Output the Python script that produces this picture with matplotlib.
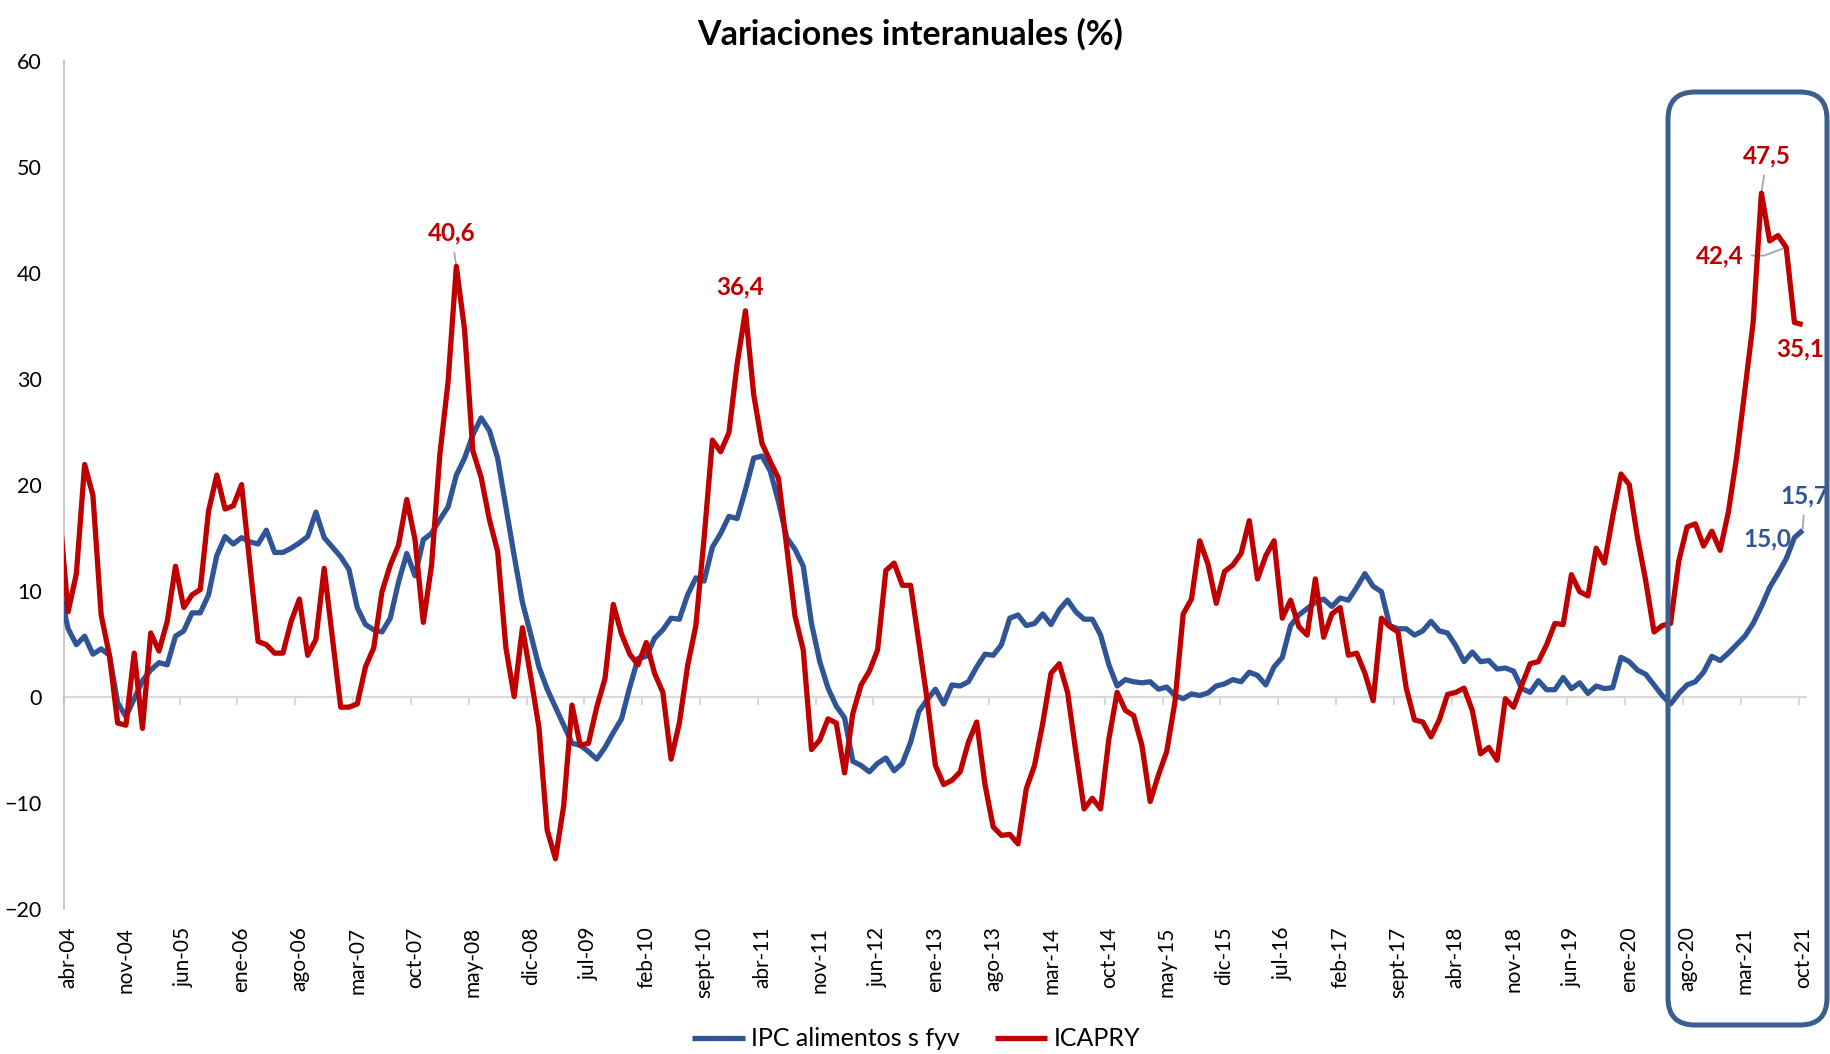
import numpy as np
import matplotlib
matplotlib.use("Agg")
import matplotlib.pyplot as plt
from matplotlib.patches import FancyBboxPatch
from matplotlib.transforms import IdentityTransform

plt.rcParams['font.family'] = 'Lato'

# meses abr-04 .. oct-21 (211 datos)
meses = ['ene', 'feb', 'mar', 'abr', 'may', 'jun', 'jul', 'ago', 'sept', 'oct', 'nov', 'dic']
start_year, start_month = 2004, 3  # abr (0-based)
n_months = 211

ipc_alimentos = [
    6.4, 4.9, 5.7, 4.0, 4.5, 3.9, -0.6, -1.9, -0.2, 1.5,
    2.5, 3.2, 3.0, 5.7, 6.2, 7.9, 7.9, 9.6, 13.3, 15.1,
    14.4, 15.0, 14.6, 14.4, 15.7, 13.6, 13.6, 14.0, 14.5, 15.1,
    17.4, 15.0, 14.1, 13.2, 12.0, 8.4, 6.8, 6.3, 6.1, 7.4,
    10.8, 13.5, 11.4, 14.8, 15.4, 16.7, 17.9, 20.9, 22.5, 24.7,
    26.3, 25.1, 22.5, 17.9, 13.3, 8.9, 5.9, 2.8, 0.7, -1.0,
    -2.7, -4.4, -4.6, -5.2, -5.9, -4.8, -3.4, -2.1, 0.9, 3.6,
    3.8, 5.5, 6.3, 7.4, 7.3, 9.6, 11.2, 10.9, 14.1, 15.4,
    17.0, 16.8, 19.5, 22.5, 22.7, 21.3, 18.4, 15.0, 13.9, 12.3,
    6.9, 3.3, 0.8, -0.9, -2.0, -6.1, -6.5, -7.1, -6.3, -5.8,
    -7.0, -6.3, -4.3, -1.4, -0.3, 0.7, -0.7, 1.1, 1.0, 1.4,
    2.8, 4.0, 3.9, 4.9, 7.4, 7.7, 6.7, 6.9, 7.8, 6.8,
    8.2, 9.1, 8.0, 7.3, 7.3, 5.8, 3.0, 1.0, 1.6, 1.4,
    1.3, 1.4, 0.7, 0.9, 0.1, -0.2, 0.25, 0.1, 0.35, 1.0,
    1.2, 1.6, 1.4, 2.3, 2.0, 1.1, 2.8, 3.7, 6.7, 7.7,
    8.3, 8.9, 9.2, 8.5, 9.3, 9.1, 10.3, 11.6, 10.4, 9.9,
    6.7, 6.4, 6.4, 5.8, 6.2, 7.1, 6.2, 6.0, 4.8, 3.3,
    4.2, 3.3, 3.4, 2.6, 2.7, 2.4, 0.75, 0.4, 1.5, 0.65,
    0.65, 1.8, 0.75, 1.3, 0.3, 1.0, 0.75, 0.85, 3.7, 3.3,
    2.5, 2.1, 1.1, 0.1, -0.7, 0.3, 1.1, 1.4, 2.3, 3.8,
    3.4, 4.1, 4.9, 5.7, 6.9, 8.5, 10.3, 11.6, 13.0, 15.0,
    15.7,
]

icapry = [
    8.0, 11.6, 21.9, 19.0, 7.7, 3.9, -2.5, -2.7, 4.1, -3.0,
    6.0, 4.3, 7.1, 12.3, 8.4, 9.6, 10.1, 17.5, 20.9, 17.7,
    18.0, 20.0, 12.5, 5.2, 4.9, 4.1, 4.1, 7.1, 9.2, 3.9,
    5.4, 12.1, 5.5, -1.0, -1.0, -0.7, 2.8, 4.6, 9.9, 12.4,
    14.3, 18.6, 14.8, 7.0, 12.4, 22.8, 29.7, 40.6, 34.6, 23.2,
    20.7, 16.7, 13.7, 4.6, 0.0, 6.5, 1.9, -2.9, -12.6, -15.3,
    -10.3, -0.8, -4.6, -4.4, -1.0, 1.7, 8.7, 5.9, 4.0, 3.0,
    5.1, 2.2, 0.4, -5.9, -2.5, 2.9, 6.7, 15.0, 24.2, 23.1,
    24.9, 31.4, 36.4, 28.5, 23.9, 22.2, 20.6, 14.1, 7.6, 4.4,
    -5.0, -4.1, -2.1, -2.5, -7.2, -1.6, 1.1, 2.4, 4.4, 11.9,
    12.6, 10.5, 10.5, 5.1, -0.3, -6.5, -8.3, -7.9, -7.1, -4.3,
    -2.4, -8.3, -12.3, -13.1, -13.0, -13.9, -8.7, -6.5, -2.5, 2.2,
    3.1, 0.4, -5.2, -10.6, -9.6, -10.6, -4.0, 0.4, -1.3, -1.8,
    -4.6, -9.9, -7.4, -5.2, -0.5, 7.8, 9.2, 14.7, 12.5, 8.8,
    11.8, 12.4, 13.5, 16.6, 11.1, 13.3, 14.7, 7.4, 9.1, 6.6,
    5.8, 11.1, 5.6, 7.8, 8.4, 3.9, 4.1, 2.2, -0.4, 7.4,
    6.6, 6.1, 0.8, -2.2, -2.4, -3.8, -2.2, 0.2, 0.4, 0.8,
    -1.3, -5.4, -4.8, -6.0, -0.2, -1.0, 1.1, 3.1, 3.3, 4.9,
    6.9, 6.8, 11.5, 9.9, 9.5, 14.0, 12.6, 17.0, 21.0, 20.0,
    15.0, 10.9, 6.1, 6.7, 6.9, 12.8, 16.0, 16.3, 14.2, 15.6,
    13.8, 17.4, 22.6, 28.9, 35.3, 47.5, 43.0, 43.5, 42.4, 35.3,
    35.1,
]

# mar-04, apenas visible en el borde izquierdo del grafico
ipc_mar04 = 10.0
icapry_mar04 = 17.0

label_step = 7

BLUE = '#2F5597'
RED = '#C00000'
BOX = '#3A5F8F'


def month_labels():
    out = []
    for k in range(n_months):
        m = start_month + k
        out.append(f"{meses[m % 12]}-{(start_year + m // 12) % 100:02d}")
    return out


def fmt(v):
    return f"{v:.1f}".replace('.', ',')


def main():
    fig = plt.figure(figsize=(18.31, 10.54), dpi=100)
    ax = fig.add_axes([0.03495, 0.138, 0.95185, 0.8044])

    x = np.arange(-1, n_months)
    ax.plot(x, [ipc_mar04] + ipc_alimentos, color=BLUE, lw=3.8,
            solid_joinstyle='round', solid_capstyle='butt',
            label='IPC alimentos s fyv', zorder=3)
    ax.plot(x, [icapry_mar04] + icapry, color=RED, lw=3.8,
            solid_joinstyle='round', solid_capstyle='butt',
            label='ICAPRY', zorder=4)

    ax.set_xlim(-0.5, n_months - 0.5)
    ax.set_ylim(-20, 60)
    ax.set_yticks(np.arange(-20, 61, 10))
    ax.tick_params(axis='y', length=0, pad=16, labelsize=15.5)

    labels = month_labels()
    pos = np.arange(0, n_months, label_step)
    ax.set_xticks(pos)
    ax.set_xticklabels([labels[p] for p in pos], rotation=90, fontsize=15)
    ax.tick_params(axis='x', length=0, pad=13)

    for s in ['top', 'right', 'bottom']:
        ax.spines[s].set_visible(False)
    ax.spines['left'].set_color('#BFBFBF')
    ax.spines['left'].set_linewidth(1.2)

    # eje de categorias en cero
    ax.axhline(0, color='#D9D9D9', lw=1.6, zorder=1)
    sec = ax.secondary_xaxis(0.25)
    sec.set_xticks(pos - 0.5)
    sec.set_xticklabels([])
    sec.tick_params(direction='out', length=6, width=1.5, color='#D9D9D9')
    sec.spines['bottom'].set_visible(False)

    # etiquetas de datos
    lead = dict(arrowstyle='-', color='#A6A6A6', lw=1.3, shrinkA=4, shrinkB=1)
    lab_red = dict(color=RED, fontsize=17.5, fontweight='bold', ha='center', va='center')
    lab_blue = dict(color=BLUE, fontsize=17.5, fontweight='bold', ha='center', va='center')

    i_max1 = int(np.argmax(icapry[:70]))
    i_max2 = 70 + int(np.argmax(icapry[70:120]))
    i_max3 = int(np.argmax(icapry))
    last = n_months - 1

    ax.annotate(fmt(icapry[i_max1]), (i_max1, icapry[i_max1]),
                xytext=(-3.6, 24), textcoords='offset points', arrowprops=lead, **lab_red)
    ax.annotate(fmt(icapry[i_max2]), (i_max2, icapry[i_max2]),
                xytext=(-3.6, 17.5), textcoords='offset points', **lab_red)
    ax.annotate(fmt(icapry[i_max3]), (i_max3, icapry[i_max3]),
                xytext=(4, 27), textcoords='offset points', arrowprops=lead, **lab_red)
    ax.annotate(fmt(icapry[last - 2]), (last - 2, icapry[last - 2]),
                xytext=(-48, -6), textcoords='offset points',
                arrowprops=dict(lead, connectionstyle='angle,angleA=0,angleB=21,rad=0'),
                **lab_red)
    ax.annotate(fmt(icapry[last]), (last, icapry[last]),
                xytext=(-2, -17.5), textcoords='offset points', **lab_red)
    ax.annotate(fmt(ipc_alimentos[last]), (last, ipc_alimentos[last]),
                xytext=(1.5, 25), textcoords='offset points', arrowprops=lead, **lab_blue)
    ax.annotate(fmt(ipc_alimentos[last - 1]), (last - 1, ipc_alimentos[last - 1]),
                xytext=(-19.5, -0.7), textcoords='offset points', **lab_blue)

    fig.text(910 / 1831, 1 - 45 / 1054, "Variaciones interanuales (%)",
             ha='center', va='baseline', fontsize=24.5, fontweight='bold')

    fig.legend(loc='center', bbox_to_anchor=(916 / 1831, 1 - 1039 / 1054), ncol=2,
               frameon=False, fontsize=18, handlelength=2.1, handletextpad=0.25,
               columnspacing=1.4)

    # recuadro redondeado del ultimo periodo
    box = FancyBboxPatch((1668, 29), 159, 933,
                         boxstyle='round,pad=0,rounding_size=27',
                         transform=IdentityTransform(), fill=False,
                         edgecolor=BOX, lw=3.6, zorder=10)
    fig.add_artist(box)

    fig.savefig('out.png', dpi=100)
    plt.close(fig)


if __name__ == "__main__":
    main()
